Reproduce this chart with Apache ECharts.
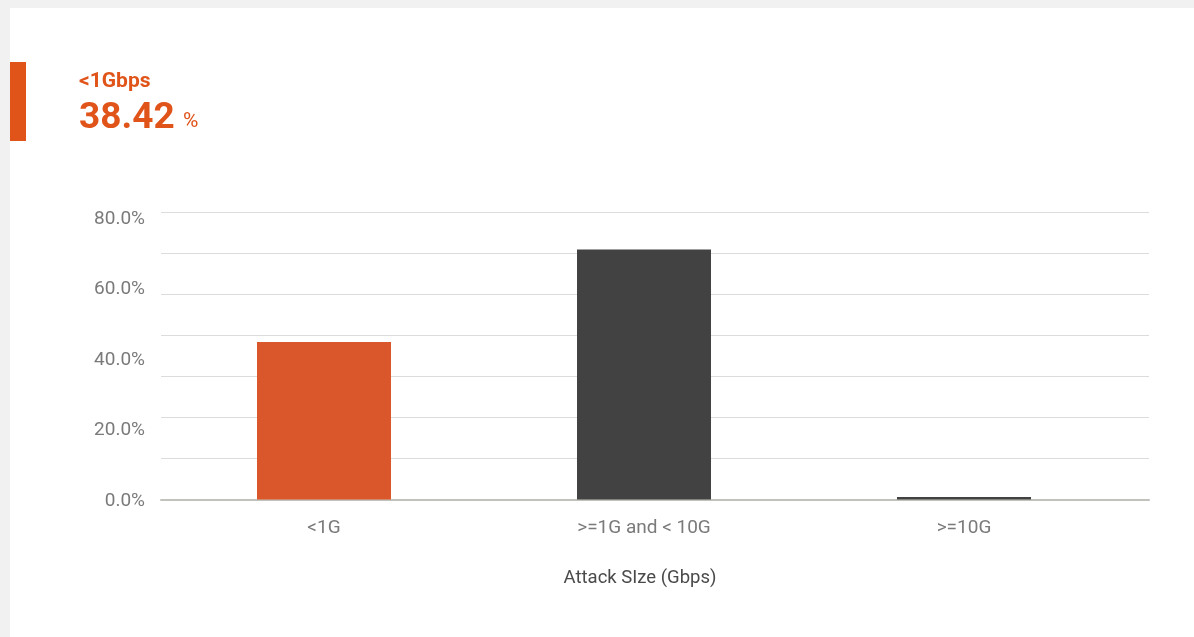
<!DOCTYPE html>
<html>
<head>
<meta charset="utf-8">
<title>Attack Size (Gbps)</title>
<script src="https://cdn.jsdelivr.net/npm/echarts@6/dist/echarts.min.js"></script>
<style>
  html, body { margin: 0; padding: 0; width: 1194px; height: 637px; background: #f1f1f1; overflow: hidden; }
  #card { position: absolute; left: 10px; top: 8px; width: 1184px; height: 629px; background: #ffffff; }
  #chart { width: 1184px; height: 629px; }
</style>
</head>
<body>
<div id="card"><div id="chart"></div></div>
<script>
// Share of attacks by size bucket (percent)
const categories = ['<1G', '>=1G and < 10G', '>=10G'];
const shares = [38.42, 60.98, 0.6];
const barColors = ['#d9572b', '#424242', '#424242'];
// Tick values printed beside the value axis
const labelTicks = [0, 20, 40, 60, 80];
const headlineLabel = '<1Gbps';
const axisTitle = 'Attack SIze (Gbps)';

const accent = '#e0541a';
const font = 'Roboto, "Noto Sans", sans-serif';

const chart = echarts.init(document.getElementById('chart'), null, { renderer: 'canvas' });

chart.setOption({
  animation: false,
  backgroundColor: '#ffffff',
  textStyle: { fontFamily: font },
  graphic: [
    { type: 'rect', left: 0, top: 54, shape: { width: 16, height: 79 }, style: { fill: accent } },
    { type: 'text', x: 69, y: 74, style: { text: headlineLabel, fill: accent, font: 'bold 21px ' + font, verticalAlign: 'middle' } },
    { type: 'text', x: 69, y: 111, style: { text: shares[0].toFixed(2), fill: accent, font: 'bold 37px ' + font, verticalAlign: 'middle' } },
    { type: 'text', x: 173, y: 114, style: { text: '%', fill: accent, font: '21px ' + font, verticalAlign: 'middle' } }
  ],
  grid: [
    // gridlines + baseline
    { left: 151, top: 204.5, width: 988, height: 287 },
    // bars and category labels
    { left: 154, top: 204.5, width: 960, height: 287 },
    // printed percentage ticks
    { left: 151, top: 211, width: 988, height: 282 }
  ],
  xAxis: [
    {
      type: 'category',
      gridIndex: 0,
      data: categories,
      axisTick: { show: false },
      axisLabel: { show: false },
      axisLine: { show: true, lineStyle: { color: '#c2c2bc', width: 2 } }
    },
    {
      type: 'category',
      gridIndex: 1,
      data: categories,
      axisTick: { show: false },
      axisLine: { show: false },
      axisLabel: { color: '#7a7a7a', fontSize: 19, margin: 19, fontFamily: font },
      name: axisTitle,
      nameLocation: 'middle',
      nameGap: 69,
      nameTextStyle: { color: '#4a4a4a', fontSize: 18.5, fontFamily: font, padding: [0, 8, 0, 0] }
    },
    { type: 'category', gridIndex: 2, data: categories, show: false }
  ],
  yAxis: [
    {
      type: 'value',
      gridIndex: 0,
      min: 0,
      max: 70,
      interval: 10,
      axisLabel: { show: false },
      axisLine: { show: false },
      axisTick: { show: false },
      splitLine: { lineStyle: { color: '#dcdcdc', width: 1 } }
    },
    {
      type: 'value',
      gridIndex: 1,
      min: 0,
      max: 70,
      interval: 10,
      show: false,
      splitLine: { show: false }
    },
    {
      type: 'value',
      gridIndex: 2,
      min: labelTicks[0],
      max: labelTicks[labelTicks.length - 1],
      interval: labelTicks[1] - labelTicks[0],
      axisLine: { show: false },
      axisTick: { show: false },
      splitLine: { show: false },
      axisLabel: {
        color: '#7a7a7a',
        fontSize: 19,
        margin: 16,
        fontFamily: font,
        formatter: v => v.toFixed(1) + '%'
      }
    }
  ],
  series: [
    {
      type: 'bar',
      xAxisIndex: 1,
      yAxisIndex: 1,
      barWidth: 134,
      data: shares.map((v, i) => ({ value: v, itemStyle: { color: barColors[i] } }))
    }
  ]
});
</script>
</body>
</html>
